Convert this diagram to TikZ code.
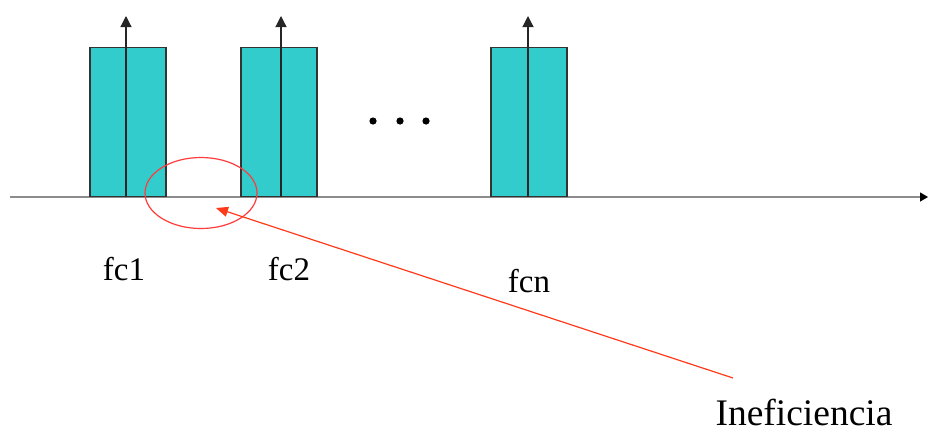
\documentclass[tikz,border=0pt]{standalone}
\usepackage{fontspec}
\setmainfont{Liberation Serif}
\usetikzlibrary{arrows.meta}
\definecolor{barfill}{HTML}{33CCCC}
\definecolor{ringred}{HTML}{FF3B3B}
\definecolor{arrred}{HTML}{FF3A1A}
\begin{document}
\begin{tikzpicture}[x=1pt,y=-1pt,
  bar/.style={draw=black!80,line width=1.2pt,fill=barfill,minimum width=76pt,minimum height=149pt,inner sep=0pt,anchor=south},
  carrier/.style={draw=black!85,line width=1.2pt,-{Triangle[length=11pt,width=11pt]}},
  lbl/.style={font=\fontsize{33}{36}\selectfont,anchor=base,inner sep=0pt}]
\useasboundingbox (0,0) rectangle (928,432);
% axis
\coordinate (axL) at (10,197);
\coordinate (axR) at (928,197);
\draw[black!45,line width=1.3pt,-{Triangle[length=8pt,width=9pt,color=black]}] (axL) -- (axR);
% bars
\node[bar] (b1) at (128,197) {};
\node[bar] (b2) at (279,197) {};
\node[bar] (b3) at (529,197) {};
\coordinate (t1) at (126,16);
\coordinate (t2) at (281,16);
\coordinate (t3) at (528,16);
\draw[carrier] (b1.south -| t1) -- (t1);
\draw[carrier] (b2.south -| t2) -- (t2);
\draw[carrier] (b3.south -| t3) -- (t3);
% dots
\fill (373,121) circle (3.6pt) (400,121) circle (3.6pt) (426,121) circle (3.6pt);
% ellipse
\coordinate (ring) at (201,193);
\draw[ringred,line width=1.2pt] (ring) ellipse [x radius=56pt,y radius=35.5pt];
% labels
\node[lbl] (l1) at (124,280) {fc1};
\node[lbl] (l2) at (289,280) {fc2};
\node[lbl] (l3) at (529,292) {fcn};
\node[lbl,font=\fontsize{37.5}{40}\selectfont] (l4) at (804,425) {Ineficiencia};
% pointer
\coordinate (pstart) at (733,378);
\coordinate (pend) at (216,208);
\draw[arrred,line width=1.2pt,-{Triangle[length=12pt,width=10pt]}] (pstart) -- (pend);
\end{tikzpicture}
\end{document}
